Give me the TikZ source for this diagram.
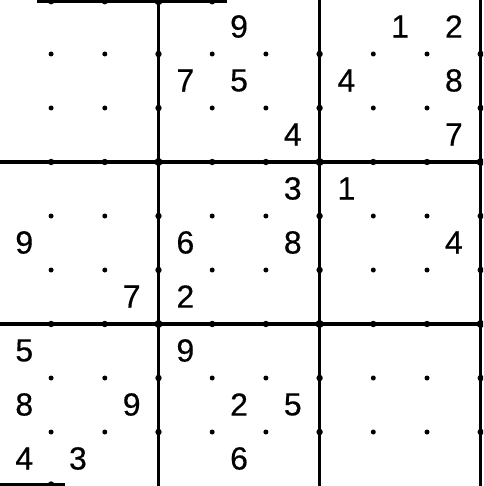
\documentclass[tikz,border=0pt]{standalone}
\usepackage{fontspec}
\setmainfont{Liberation Sans}
\newfontfamily\digitfont{Liberation Sans}[FakeBold=0.4]
\begin{document}
\begin{tikzpicture}[x=1pt,y=-1pt,
  boxline/.style={line width=3.2pt,line cap=butt},
  digit/.style={font=\digitfont\fontsize{32}{32}\selectfont,inner sep=0pt}]
\useasboundingbox (0,0) rectangle (483,486);
\clip (0,0) rectangle (483,486);
% thick lines
\draw[boxline] (158.5,0) -- (158.5,486);
\draw[boxline] (319.6,0) -- (319.6,486);
\draw[boxline] (480.7,0) -- (480.7,486);
\draw[boxline] (0,162) -- (480.7,162);
\draw[boxline] (0,324) -- (480.7,324);
\draw[line width=3.5pt] (37,1.2) -- (227,1.2);
\draw[boxline] (0,484.5) -- (65,484.5);
% dots
\foreach \i in {1,...,9}{
  \foreach \j in {1,...,8}{
    \pgfmathsetmacro{\ra}{(mod(\i,3)==0 ? 1 : 0) + (mod(\j,3)==0 ? 1 : 0)}
    \pgfmathsetmacro{\rr}{\ra==2 ? 4.0 : (\ra==1 ? 3.2 : 2.5)}
    \fill ({-2.6+53.7*\i},{54*\j}) circle (\rr);
  }
}
\foreach \i in {1,2,4}{\fill ({-2.6+53.7*\i},1.2) circle (3.2);}
\fill (158.5,1.2) circle (4.0);
\fill (51.1,484.5) circle (3.2);
% digits
\foreach \c/\r/\d in {4/0/9,7/0/1,8/0/2,
  3/1/7,4/1/5,6/1/4,8/1/8,
  5/2/4,8/2/7,
  5/3/3,6/3/1,
  0/4/9,3/4/6,5/4/8,8/4/4,
  2/5/7,3/5/2,
  0/6/5,3/6/9,
  0/7/8,2/7/9,4/7/2,5/7/5,
  0/8/4,1/8/3,4/8/6}{
  \node[digit] (d\c\r) at ({-2.6+53.7*(\c+0.5)},{54*(\r+0.5)-0.5}) {\d};
}
\end{tikzpicture}
\end{document}
